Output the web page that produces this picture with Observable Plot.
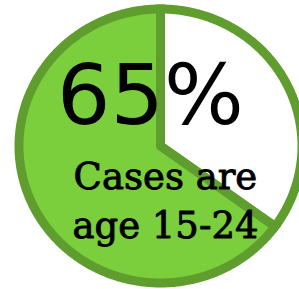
<!DOCTYPE html>
<html>
<head>
<meta charset="utf-8">
<script src="https://cdn.jsdelivr.net/npm/d3@7"></script>
<script src="https://cdn.jsdelivr.net/npm/@observablehq/plot@0.6"></script>
<style>
  html, body { margin: 0; padding: 0; background: #fff; }
  #chart svg { display: block; overflow: visible; }
</style>
</head>
<body>
<div id="chart"></div>
<script>
// Data
const categories = ["Other ages", "Age 15-24"];
const values = [35, 65];
const sliceColors = ["#ffffff", "#7ccf3c"];
const bigLabel = "65%";
const subLabel = "Cases are\nage 15-24";

const pie = d3.pie().sort(null).value(d => d.value)(
  categories.map((c, i) => ({category: c, value: values[i], color: sliceColors[i]}))
);

// Build slice outlines (center + arc) in unit-circle coordinates
const slicePts = [];
for (const a of pie) {
  const n = Math.max(2, Math.ceil((a.endAngle - a.startAngle) / 0.01));
  slicePts.push({x: 0, y: 0, category: a.data.category, color: a.data.color});
  for (let k = 0; k <= n; k++) {
    const t = a.startAngle + (a.endAngle - a.startAngle) * k / n;
    slicePts.push({x: Math.sin(t), y: Math.cos(t), category: a.data.category, color: a.data.color});
  }
  slicePts.push({x: 0, y: 0, category: a.data.category, color: a.data.color});
}

const chart = Plot.plot({
  width: 299,
  height: 289,
  margin: 0,
  x: {domain: [-1, 1], range: [18.5, 301.5], axis: null},
  y: {domain: [-1, 1], range: [282.5, 8.5], axis: null},
  marks: [
    Plot.line(slicePts, {
      x: "x", y: "y", z: "category", fill: "color",
      stroke: "#5f9e2e", strokeWidth: 9, strokeLinejoin: "miter", strokeMiterlimit: 10,
      curve: "linear"
    }),
    Plot.text([bigLabel], {
      x: () => -0.071, y: () => 0.157, text: d => d,
      fontSize: 84, fontFamily: "DejaVu Sans", fill: "#000",
      textAnchor: "middle", lineAnchor: "bottom"
    }),
    Plot.text([subLabel], {
      x: () => 0.035, y: () => -0.668, text: d => d,
      fontSize: 37, fontFamily: "DejaVu Serif", fill: "#000",
      stroke: "#000", strokeWidth: 0.9,
      textAnchor: "middle", lineAnchor: "bottom", lineHeight: 1.3
    })
  ]
});
document.getElementById("chart").appendChild(chart);
</script>
</body>
</html>
